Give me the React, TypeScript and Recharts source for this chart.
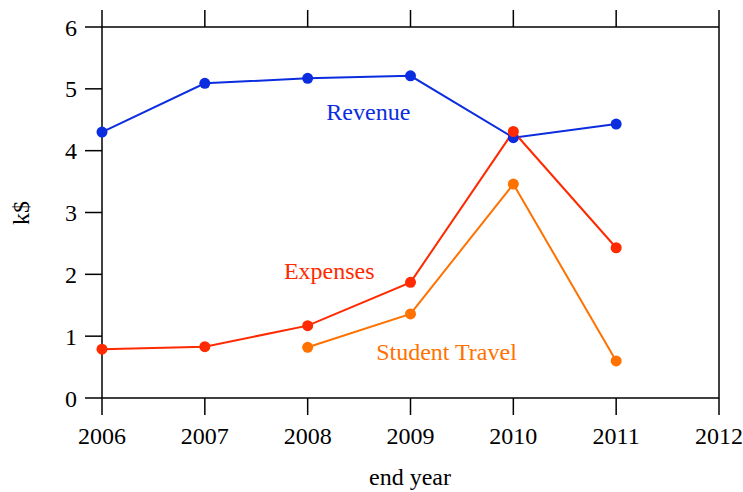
import React from 'react';
import { LineChart, Line, XAxis, YAxis, ReferenceDot, Customized } from 'recharts';

const years = [2006, 2007, 2008, 2009, 2010, 2011];
const revenue = [4.3, 5.09, 5.17, 5.21, 4.21, 4.43];
const expenses = [0.79, 0.83, 1.17, 1.87, 4.31, 2.43];
const studentTravel: (number | null)[] = [null, null, 0.82, 1.36, 3.46, 0.6];
const xTicks = [2006, 2007, 2008, 2009, 2010, 2011, 2012];
const yTicks = [0, 1, 2, 3, 4, 5, 6];

const BLUE = '#0b2ddf';
const RED = '#ff2a00';
const ORANGE = '#ff7200';
const FONT = 'Liberation Serif';
const FS = 24;

const data = years.map((y, i) => ({
  year: y,
  revenue: revenue[i],
  expenses: expenses[i],
  travel: studentTravel[i],
}));

const tickStyle = { fill: '#000', fontSize: FS, fontFamily: FONT };
const blankTick = { fill: 'none', fontSize: 1 };
const axisStroke = { stroke: '#000', strokeWidth: 1.5 };
const blank = () => '';

const AxisTitles = () => (
  <g>
    <text x={29} y={213} transform="rotate(-90, 29, 213)" textAnchor="middle" fontFamily={FONT} fontSize={FS} fill="#000">k$</text>
    <text x={410} y={485} textAnchor="middle" fontFamily={FONT} fontSize={FS} fill="#000">end year</text>
  </g>
);

export default function App() {
  return (
    <div style={{ position: 'absolute', left: 0, top: 0, background: '#fff' }}>
      <LineChart width={743} height={492} data={data} margin={{ top: 0, right: 0, bottom: 0, left: 0 }}>
        <XAxis xAxisId="b" dataKey="year" type="number" domain={[2006, 2012]} ticks={xTicks} orientation="bottom"
          height={94} tickSize={17} tickMargin={12} tick={tickStyle} axisLine={axisStroke} tickLine={axisStroke} interval={0} />
        <XAxis xAxisId="t" dataKey="year" type="number" domain={[2006, 2012]} ticks={xTicks} orientation="top"
          height={27} tickSize={17} tick={blankTick} tickFormatter={blank} axisLine={axisStroke} tickLine={axisStroke} interval={0} />
        <YAxis yAxisId="l" type="number" domain={[0, 6]} ticks={yTicks} orientation="left"
          width={102} tickSize={17} tickMargin={8} tick={tickStyle} axisLine={axisStroke} tickLine={axisStroke} interval={0} />
        <YAxis yAxisId="r" type="number" domain={[0, 6]} ticks={yTicks} orientation="right"
          width={24} tickSize={17} tick={blankTick} tickFormatter={blank} axisLine={axisStroke} tickLine={axisStroke} interval={0} />
        <Line xAxisId="b" yAxisId="l" dataKey="revenue" stroke={BLUE} strokeWidth={2} isAnimationActive={false}
          dot={{ r: 5.5, fill: BLUE, stroke: BLUE, strokeWidth: 0 }} activeDot={false} />
        <Line xAxisId="b" yAxisId="l" dataKey="expenses" stroke={RED} strokeWidth={2} isAnimationActive={false}
          dot={{ r: 5.5, fill: RED, stroke: RED, strokeWidth: 0 }} activeDot={false} />
        <Line xAxisId="b" yAxisId="l" dataKey="travel" stroke={ORANGE} strokeWidth={2} isAnimationActive={false}
          dot={{ r: 5.5, fill: ORANGE, stroke: ORANGE, strokeWidth: 0 }} activeDot={false} />
        <ReferenceDot xAxisId="b" yAxisId="l" x={2008.59} y={4.63} r={0} stroke="none" fill="none"
          label={{ value: 'Revenue', position: 'center', fill: BLUE, fontSize: FS, fontFamily: FONT }} />
        <ReferenceDot xAxisId="b" yAxisId="l" x={2008.21} y={2.07} r={0} stroke="none" fill="none"
          label={{ value: 'Expenses', position: 'center', fill: RED, fontSize: FS, fontFamily: FONT }} />
        <ReferenceDot xAxisId="b" yAxisId="l" x={2009.35} y={0.76} r={0} stroke="none" fill="none"
          label={{ value: 'Student Travel', position: 'center', fill: ORANGE, fontSize: FS, fontFamily: FONT }} />
        <Customized component={AxisTitles} />
      </LineChart>
    </div>
  );
}
